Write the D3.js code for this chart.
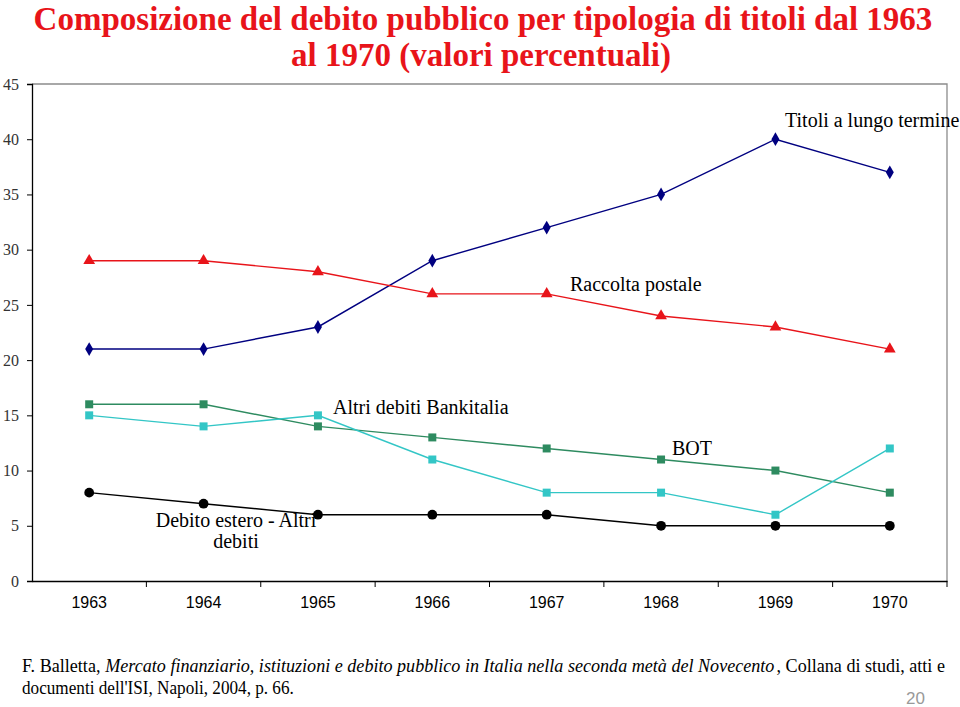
<!DOCTYPE html>
<html><head><meta charset="utf-8">
<script src="https://cdn.jsdelivr.net/npm/d3@7"></script>
<style>body{margin:0;background:#fff}svg{display:block}</style>
</head><body>
<svg id="c" width="960" height="707"></svg>
<script>
const years = ["1963","1964","1965","1966","1967","1968","1969","1970"];
const titoliLungo = [21,21,23,29,32,35,40,37];
const raccoltaPostale = [29,29,28,26,26,24,23,21];
const altriBankitalia = [16,16,14,13,12,11,10,8];
const bot = [15,14,15,11,8,8,6,12];
const debitoEstero = [8,7,6,6,6,5,5,5];
const yTicks = [0,5,10,15,20,25,30,35,40,45];

const series = [
  {name:"Titoli a lungo termine", values:titoliLungo, color:"#000080", sym:d3.symbolDiamond, size:55, lx:785, ly:127},
  {name:"Raccolta postale", values:raccoltaPostale, color:"#e8141a", sym:d3.symbolTriangle, size:60, lx:570, ly:291},
  {name:"Altri debiti Bankitalia", values:altriBankitalia, color:"#2e8b60", sym:d3.symbolSquare, size:64, lx:333, ly:414},
  {name:"BOT", values:bot, color:"#33c6c6", sym:d3.symbolSquare, size:64, lx:672, ly:455},
  {name:"Debito estero - Altri|debiti", values:debitoEstero, color:"#000000", sym:d3.symbolCircle, size:75, lx:236, ly:527}
];

const serif = "'Liberation Serif','Times New Roman',serif";
const svg = d3.select("#c");
const L=32, R=947, T=84, B=581;
const x = d3.scaleBand().domain(years).range([L,R]);
const y = d3.scaleLinear().domain([0,45]).range([B,T]);

// Title
const title = svg.append("g").attr("font-family",serif)
  .attr("font-weight","bold").attr("fill","#e8141a").attr("font-size",33).attr("text-anchor","middle");
title.append("text").attr("x",483).attr("y",30).text("Composizione del debito pubblico per tipologia di titoli dal 1963");
title.append("text").attr("x",481).attr("y",66).text("al 1970 (valori percentuali)");

// plot border
svg.append("path").attr("d",`M${L},${T}H${R}V${B}`).attr("fill","none").attr("stroke","#8c8c8c").attr("stroke-width",1.3);

// y axis
const yAxis = svg.append("g").attr("transform",`translate(${L},0)`)
  .call(d3.axisLeft(y).tickValues(yTicks).tickSize(5).tickPadding(8));
yAxis.attr("font-family",serif);
yAxis.select(".domain").attr("stroke","#000").attr("stroke-width",1.3);
yAxis.selectAll(".tick line").attr("stroke","#000");
yAxis.selectAll("text").attr("font-family",serif).attr("font-size",16).attr("fill","#333");

// x axis
const xAxis = svg.append("g").attr("transform",`translate(0,${B})`)
  .call(d3.axisBottom(x).tickSize(0).tickPadding(16));
xAxis.select(".domain").attr("stroke","#000").attr("stroke-width",1.5);
xAxis.selectAll("text").attr("font-family","'Liberation Sans',Arial,sans-serif").attr("font-size",16).attr("fill","#000");
xAxis.selectAll(".bt").data(years).enter().append("line")
  .attr("x1",(d,i)=>L+(i+1)*x.step()).attr("x2",(d,i)=>L+(i+1)*x.step())
  .attr("y1",0).attr("y2",6).attr("stroke","#000");

// lines
const line = d3.line().x((d,i)=>x(years[i])+x.bandwidth()/2).y(d=>y(d));
series.forEach(s=>{
  svg.append("path").datum(s.values).attr("d",line).attr("fill","none").attr("stroke",s.color).attr("stroke-width",1.4);
});
series.forEach(s=>{
  svg.append("g").selectAll("path").data(s.values).enter().append("path")
    .attr("d",d3.symbol().type(s.sym).size(s.size))
    .attr("transform",(d,i)=>`translate(${x(years[i])+x.bandwidth()/2},${y(d)})`)
    .attr("fill",s.color);
});

// labels
const lab = svg.append("g").attr("font-family",serif).attr("font-size",20).attr("fill","#000");
series.forEach(s=>{
  const parts = s.name.split("|");
  if(parts.length===1){
    lab.append("text").attr("x",s.lx).attr("y",s.ly).text(s.name);
  } else {
    parts.forEach((p,i)=>lab.append("text").attr("x",s.lx).attr("y",s.ly+i*21).attr("text-anchor","middle").text(p));
  }
});

// footer: pieces laid out at natural width, then the whole line squeezed horizontally
const footParts = [
  {t:"F. Balletta,", it:false, gap:5},
  {t:"Mercato finanziario, istituzioni e debito pubblico in Italia nella seconda metà del Novecento", it:true, gap:2},
  {t:", Collana di studi, atti e", it:false, gap:0}
];
const f1 = svg.append("g").attr("font-family",serif).attr("font-size",19).attr("fill","#000");
let cx = 0;
footParts.forEach(p=>{
  const n = f1.append("text").attr("x",cx).attr("y",0).attr("font-style",p.it?"italic":"normal").text(p.t);
  cx += n.node().getComputedTextLength() + p.gap;
});
const k = 923/cx;
f1.attr("transform",`translate(22,672) scale(${k},1)`);
const f2 = svg.append("g").attr("font-family",serif).attr("font-size",19).attr("fill","#000");
const t2 = f2.append("text").attr("x",0).attr("y",0).text("documenti dell'ISI, Napoli, 2004, p. 66.");
f2.attr("transform",`translate(22,694) scale(${272/t2.node().getComputedTextLength()},1)`);
svg.append("text").attr("x",925).attr("y",704).attr("text-anchor","end").attr("font-family","'Liberation Sans',Arial,sans-serif")
  .attr("font-size",17).attr("fill","#999").text("20");
</script>
</body></html>
